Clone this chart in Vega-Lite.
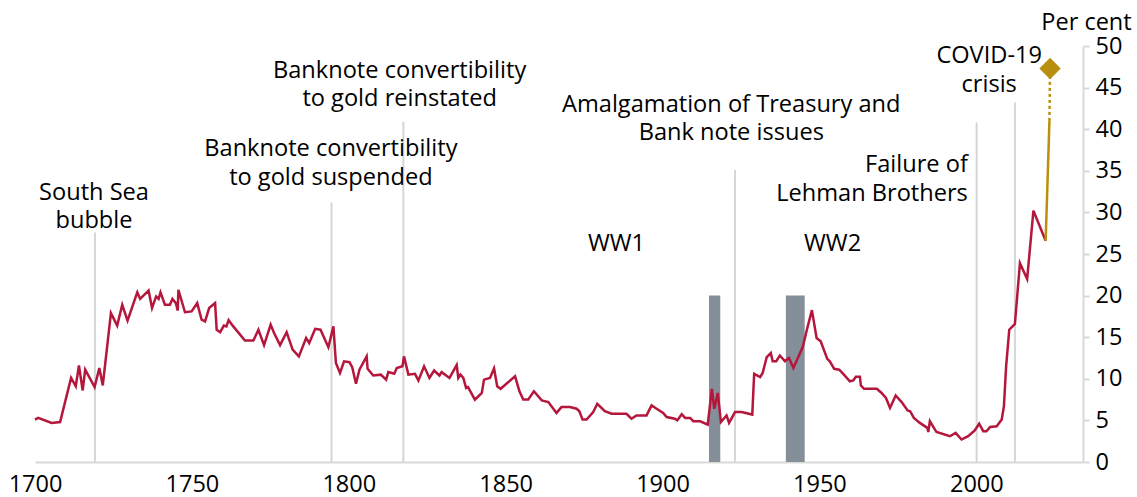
{
  "$schema": "https://vega.github.io/schema/vega-lite/v6.json",
  "autosize": {"type": "none"},
  "width": 1048,
  "height": 416,
  "padding": {"left": 35, "top": 46, "right": 54, "bottom": 35},
  "background": "white",
  "config": {
    "view": {"stroke": null},
    "font": "Open Sans",
    "axis": {"labelFont": "Open Sans", "titleFont": "Open Sans", "labelColor": "#000000", "titleColor": "#000000"}
  },
  "encoding": {
    "x": {
      "field": "year", "type": "quantitative",
      "scale": {"domain": [1700, 2034], "nice": false, "zero": false},
      "axis": {"title": null, "values": [1700, 1750, 1800, 1850, 1900, 1950, 2000], "format": "d", "grid": false, "ticks": false, "tickSize": 0, "labelFlush": false, "labelPadding": 10, "labelFontSize": 23.5, "domainColor": "#d9d9d9", "domainWidth": 2}
    },
    "y": {
      "field": "val", "type": "quantitative",
      "scale": {"domain": [0, 50], "nice": false},
      "axis": {"orient": "right", "title": "Per cent", "titleAngle": 0, "titleAlign": "center", "titleBaseline": "alphabetic", "titleX": 3, "titleY": -17, "titleFontSize": 23.5, "titleFontWeight": "normal", "values": [0, 5, 10, 15, 20, 25, 30, 35, 40, 45, 50], "grid": false, "ticks": true, "tickSize": 6, "tickColor": "#d9d9d9", "tickWidth": 2, "labelPadding": 6, "labelFontSize": 23.5, "domainColor": "#d9d9d9", "domainWidth": 2}
    }
  },
  "layer": [
    {
      "data": {"values": [
        {"year": 1719.1, "val": 27.6, "val2": 0},
        {"year": 1794.5, "val": 31.2, "val2": 0},
        {"year": 1817.4, "val": 40.9, "val2": 0},
        {"year": 1923.1, "val": 35.1, "val2": 0},
        {"year": 2000.1, "val": 40.8, "val2": 0},
        {"year": 2012.3, "val": 43.2, "val2": 0}
      ]},
      "mark": {"type": "rule", "color": "#d6d6d6", "strokeWidth": 2},
      "encoding": {"y2": {"field": "val2"}}
    },
    {
      "data": {"values": [
        {"year": 1914.8, "year2": 1918.4, "val": 20, "val2": 0},
        {"year": 1939.3, "year2": 1945.3, "val": 20, "val2": 0}
      ]},
      "mark": {"type": "rect", "color": "#858f99"},
      "encoding": {"x2": {"field": "year2"}, "y2": {"field": "val2"}}
    },
    {
      "data": {"values": [
        {"year": 1700, "val": 5.1}, {"year": 1701, "val": 5.3}, {"year": 1705.3, "val": 4.7}, {"year": 1708, "val": 4.8},
        {"year": 1711.5, "val": 10.1}, {"year": 1713, "val": 9.1}, {"year": 1714, "val": 11.6}, {"year": 1715.2, "val": 8.6},
        {"year": 1716, "val": 11.1}, {"year": 1719, "val": 9.0}, {"year": 1720.5, "val": 11.3}, {"year": 1721.6, "val": 9.2},
        {"year": 1724.2, "val": 17.9}, {"year": 1726.2, "val": 16.4}, {"year": 1727.8, "val": 18.9}, {"year": 1729.5, "val": 17.0},
        {"year": 1732.6, "val": 20.4}, {"year": 1733.5, "val": 19.6}, {"year": 1736.2, "val": 20.6}, {"year": 1737.3, "val": 18.5},
        {"year": 1738.6, "val": 19.9}, {"year": 1739.4, "val": 19.6}, {"year": 1740, "val": 20.4}, {"year": 1741.4, "val": 18.9},
        {"year": 1743, "val": 18.9}, {"year": 1743.8, "val": 19.6}, {"year": 1744.9, "val": 19.1}, {"year": 1745.5, "val": 18.2},
        {"year": 1745.7, "val": 20.7}, {"year": 1747.8, "val": 18.0}, {"year": 1749.9, "val": 18.1}, {"year": 1751.7, "val": 19.1},
        {"year": 1753.1, "val": 17.1}, {"year": 1754.2, "val": 16.9}, {"year": 1755.5, "val": 18.5}, {"year": 1757.4, "val": 19.1},
        {"year": 1757.9, "val": 15.9}, {"year": 1759, "val": 15.6}, {"year": 1760.2, "val": 16.4}, {"year": 1761, "val": 16.3},
        {"year": 1761.7, "val": 17.05}, {"year": 1763.2, "val": 16.3}, {"year": 1766.9, "val": 14.6}, {"year": 1769.6, "val": 14.6},
        {"year": 1771.2, "val": 15.9}, {"year": 1773, "val": 14.05}, {"year": 1775.1, "val": 16.5}, {"year": 1776.2, "val": 15.5},
        {"year": 1778.1, "val": 14.05}, {"year": 1780.2, "val": 15.6}, {"year": 1782.1, "val": 13.5}, {"year": 1784.1, "val": 12.7},
        {"year": 1786.4, "val": 14.9}, {"year": 1787.4, "val": 14.3}, {"year": 1789.3, "val": 16.0}, {"year": 1791, "val": 15.9},
        {"year": 1793.5, "val": 13.8}, {"year": 1795.1, "val": 16.3}, {"year": 1795.9, "val": 11.9}, {"year": 1797.2, "val": 10.7},
        {"year": 1798.5, "val": 12.1}, {"year": 1800.2, "val": 12.0}, {"year": 1801.1, "val": 11.4}, {"year": 1802.3, "val": 9.4},
        {"year": 1803.4, "val": 11.1}, {"year": 1805.7, "val": 12.7}, {"year": 1806, "val": 11.2}, {"year": 1807.8, "val": 10.4},
        {"year": 1810.2, "val": 10.5}, {"year": 1811.9, "val": 9.9}, {"year": 1812.6, "val": 10.8}, {"year": 1814.5, "val": 10.6},
        {"year": 1815.3, "val": 11.3}, {"year": 1817.1, "val": 11.5}, {"year": 1817.6, "val": 12.7}, {"year": 1819, "val": 10.5},
        {"year": 1821.1, "val": 10.6}, {"year": 1822.2, "val": 9.8}, {"year": 1824, "val": 11.5}, {"year": 1825.7, "val": 10.1},
        {"year": 1827.2, "val": 11.0}, {"year": 1828.9, "val": 10.4}, {"year": 1829.6, "val": 10.8}, {"year": 1832.1, "val": 10.1},
        {"year": 1834.4, "val": 11.65}, {"year": 1834.9, "val": 10.1}, {"year": 1835.6, "val": 10.5}, {"year": 1836.5, "val": 10.1},
        {"year": 1837.4, "val": 8.9}, {"year": 1838, "val": 9.0}, {"year": 1840.2, "val": 7.5}, {"year": 1842.4, "val": 8.3},
        {"year": 1843.1, "val": 9.9}, {"year": 1845, "val": 10.1}, {"year": 1846.3, "val": 11.25}, {"year": 1847.3, "val": 9.1},
        {"year": 1848.4, "val": 8.8}, {"year": 1853, "val": 10.3}, {"year": 1854.4, "val": 8.5}, {"year": 1855.6, "val": 7.5},
        {"year": 1857.2, "val": 7.5}, {"year": 1859, "val": 8.5}, {"year": 1861.5, "val": 7.4}, {"year": 1863.6, "val": 7.2},
        {"year": 1866.2, "val": 5.9}, {"year": 1867.8, "val": 6.6}, {"year": 1870.5, "val": 6.6}, {"year": 1872.6, "val": 6.4},
        {"year": 1873.5, "val": 6.1}, {"year": 1874.5, "val": 5.1}, {"year": 1875.8, "val": 5.1}, {"year": 1877.9, "val": 6.0},
        {"year": 1879.2, "val": 7.0}, {"year": 1881.6, "val": 6.1}, {"year": 1883.8, "val": 5.8}, {"year": 1888.5, "val": 5.8},
        {"year": 1890.1, "val": 5.2}, {"year": 1891.7, "val": 5.6}, {"year": 1894.9, "val": 5.6}, {"year": 1896.5, "val": 6.8},
        {"year": 1898.1, "val": 6.4}, {"year": 1900.2, "val": 5.9}, {"year": 1901.3, "val": 5.4}, {"year": 1903.9, "val": 5.2},
        {"year": 1904.7, "val": 5.0}, {"year": 1906.1, "val": 5.75}, {"year": 1907.2, "val": 5.3}, {"year": 1908.8, "val": 5.3},
        {"year": 1909.8, "val": 4.9}, {"year": 1912, "val": 4.9}, {"year": 1914.4, "val": 4.5}, {"year": 1915.7, "val": 8.8},
        {"year": 1916.5, "val": 6.4}, {"year": 1917.6, "val": 8.3}, {"year": 1918.6, "val": 4.8}, {"year": 1920.4, "val": 5.6},
        {"year": 1921.2, "val": 4.7}, {"year": 1923.1, "val": 6.0}, {"year": 1925.2, "val": 6.0}, {"year": 1928.6, "val": 5.7},
        {"year": 1929.2, "val": 10.6}, {"year": 1931.1, "val": 10.2}, {"year": 1931.9, "val": 10.7}, {"year": 1933.2, "val": 12.6},
        {"year": 1934.5, "val": 13.1}, {"year": 1935.1, "val": 12.1}, {"year": 1936.2, "val": 12.1}, {"year": 1937.4, "val": 12.8},
        {"year": 1939, "val": 12.1}, {"year": 1940.3, "val": 12.5}, {"year": 1941.7, "val": 11.3}, {"year": 1944.7, "val": 13.85},
        {"year": 1946, "val": 15.9}, {"year": 1947.6, "val": 18.25}, {"year": 1949.1, "val": 14.9}, {"year": 1950.4, "val": 14.5},
        {"year": 1952.5, "val": 12.4}, {"year": 1953.3, "val": 12.1}, {"year": 1954.7, "val": 11.2}, {"year": 1956.3, "val": 11.1},
        {"year": 1957.8, "val": 10.5}, {"year": 1959.7, "val": 9.7}, {"year": 1960.8, "val": 9.8}, {"year": 1961.6, "val": 10.25},
        {"year": 1962.9, "val": 10.25}, {"year": 1963.2, "val": 9.2}, {"year": 1964.2, "val": 8.8}, {"year": 1968.3, "val": 8.8},
        {"year": 1969.8, "val": 8.3}, {"year": 1971.2, "val": 7.7}, {"year": 1972.5, "val": 6.5}, {"year": 1974.3, "val": 8.0},
        {"year": 1976.2, "val": 7.2}, {"year": 1978.1, "val": 6.2}, {"year": 1978.9, "val": 6.1}, {"year": 1980.1, "val": 5.3},
        {"year": 1982, "val": 4.7}, {"year": 1984.4, "val": 4.1}, {"year": 1984.7, "val": 3.6}, {"year": 1985.2, "val": 4.9},
        {"year": 1987.3, "val": 3.6}, {"year": 1991.6, "val": 3.1}, {"year": 1993.4, "val": 3.5}, {"year": 1995.3, "val": 2.7},
        {"year": 1997.4, "val": 3.1}, {"year": 1999.5, "val": 3.8}, {"year": 2000.9, "val": 4.6}, {"year": 2002.2, "val": 3.7},
        {"year": 2003.2, "val": 3.7}, {"year": 2004.4, "val": 4.2}, {"year": 2006.5, "val": 4.3}, {"year": 2008.1, "val": 5.1},
        {"year": 2008.8, "val": 6.7}, {"year": 2009.5, "val": 11.5}, {"year": 2010.5, "val": 15.9}, {"year": 2012.3, "val": 16.6},
        {"year": 2013.9, "val": 23.9}, {"year": 2016.2, "val": 22.0}, {"year": 2018.2, "val": 30.2}, {"year": 2022.1, "val": 26.6}
      ]},
      "mark": {"type": "line", "color": "#b5163c", "strokeWidth": 2.5, "strokeJoin": "miter"}
    },
    {
      "data": {"values": [{"year": 2022.1, "val": 26.6}, {"year": 2023.3, "val": 41.0}]},
      "mark": {"type": "line", "color": "#b8900e", "strokeWidth": 2.5}
    },
    {
      "data": {"values": [{"year": 2023.3, "val": 41.0}, {"year": 2023.5, "val": 47.3}]},
      "mark": {"type": "line", "color": "#b8900e", "strokeWidth": 2.5, "strokeDash": [3, 3]}
    },
    {
      "data": {"values": [{"year": 2023.5, "val": 47.3}]},
      "mark": {"type": "point", "shape": "diamond", "filled": true, "color": "#b8900e", "size": 460, "opacity": 1}
    },
    {
      "data": {"values": [
        {"year": 1718.8, "val": 31.53, "label": "South Sea\nbubble"},
        {"year": 1794.3, "val": 36.74, "label": "Banknote convertibility\nto gold suspended"},
        {"year": 1816.2, "val": 46.17, "label": "Banknote convertibility\nto gold reinstated"},
        {"year": 1921.9, "val": 42.1, "label": "Amalgamation of Treasury and\nBank note issues"},
        {"year": 1885.3, "val": 25.4, "label": "WW1"},
        {"year": 1954.2, "val": 25.4, "label": "WW2"},
        {"year": 2004.1, "val": 47.9, "label": "COVID-19\ncrisis"}
      ]},
      "mark": {"type": "text", "font": "Open Sans", "fontSize": 23.6, "color": "#000000", "align": "center", "baseline": "alphabetic", "lineBreak": "\n", "lineHeight": 28.5},
      "encoding": {"text": {"field": "label"}}
    },
    {
      "data": {"values": [
        {"year": 1997.3, "val": 34.8, "label": "Failure of\nLehman Brothers"}
      ]},
      "mark": {"type": "text", "font": "Open Sans", "fontSize": 23.6, "color": "#000000", "align": "right", "baseline": "alphabetic", "lineBreak": "\n", "lineHeight": 28.5},
      "encoding": {"text": {"field": "label"}}
    }
  ]
}
